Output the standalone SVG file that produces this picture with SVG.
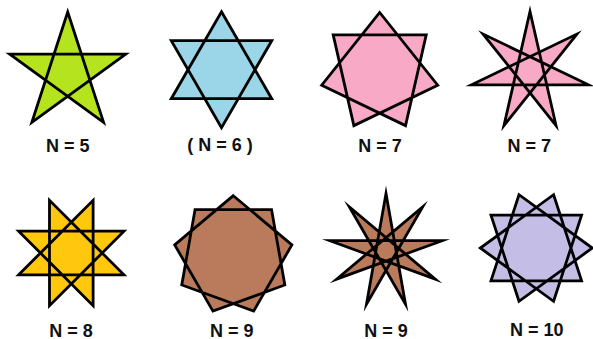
<svg xmlns="http://www.w3.org/2000/svg" width="593" height="339" viewBox="0 0 593 339">
<style>
.star{stroke:#000;stroke-width:2.8;stroke-linejoin:miter;stroke-miterlimit:10;vector-effect:non-scaling-stroke}
.lbl{font-family:"Liberation Sans",Arial,sans-serif;font-weight:bold;font-size:18px;fill:#111;text-anchor:middle}
</style>
<rect width="593" height="339" fill="#fff"/>
<g id="star5">
<polygon class="star" fill="#b5e41e" transform="translate(67.7 73) scale(0.61)" points="0,-100 58.78,80.9 -95.11,-30.9 95.11,-30.9 -58.78,80.9"/>
<text class="lbl" x="67.7" y="152">N = 5</text>
</g>
<g id="star6">
<path class="star" fill="#9bd6e8" transform="translate(221.5 69.7) scale(0.58)" d="M0,-100 L86.6,50 L-86.6,50 Z M86.6,-50 L0,100 L-86.6,-50 Z"/>
<text class="lbl" x="220" y="151">( N = 6 )</text>
</g>
<g id="star7a">
<polygon class="star" fill="#f8a9c5" transform="translate(379.7 72) scale(0.595)" points="0,-100 97.49,22.25 -43.39,90.1 -78.18,-62.35 78.18,-62.35 43.39,90.1 -97.49,22.25"/>
<text class="lbl" x="380" y="151.5">N = 7</text>
</g>
<g id="star7b">
<polygon class="star" fill="#f8a9c5" transform="translate(530 71.5) scale(0.6)" points="0,-100 43.39,90.1 -78.18,-62.35 97.49,22.25 -97.49,22.25 78.18,-62.35 -43.39,90.1"/>
<text class="lbl" x="529.3" y="151.5">N = 7</text>
</g>
<g id="star8">
<polygon class="star" fill="#ffc80e" transform="translate(71.3 253) scale(0.57)" points="38.27,-92.39 38.27,92.39 -92.39,-38.27 92.39,-38.27 -38.27,92.39 -38.27,-92.39 92.39,38.27 -92.39,38.27"/>
<text class="lbl" x="71" y="336.5">N = 8</text>
</g>
<g id="star9a">
<polygon class="star" fill="#b97b5b" transform="translate(233.3 255.2) scale(0.595)" points="0,-100 98.48,-17.36 34.2,93.97 -86.6,50 -64.28,-76.6 64.28,-76.6 86.6,50 -34.2,93.97 -98.48,-17.36"/>
<text class="lbl" x="231.7" y="336.5">N = 9</text>
</g>
<g id="star9b">
<polygon class="star" fill="#b97b5b" transform="translate(386 250.6) scale(0.57)" points="0,-100 34.2,93.97 -64.28,-76.6 86.6,50 -98.48,-17.36 98.48,-17.36 -86.6,50 64.28,-76.6 -34.2,93.97"/>
<text class="lbl" x="386" y="336.5">N = 9</text>
</g>
<g id="star10">
<polygon class="star" fill="#c4bee6" transform="translate(536.3 248) scale(0.56)" points="30.9,-95.11 80.9,58.78 -80.9,58.78 -30.9,-95.11 100,0 -30.9,95.11 -80.9,-58.78 80.9,-58.78 30.9,95.11 -100,0"/>
<text class="lbl" x="536.7" y="336">N = 10</text>
</g>
<g id="connectors"/>
</svg>
